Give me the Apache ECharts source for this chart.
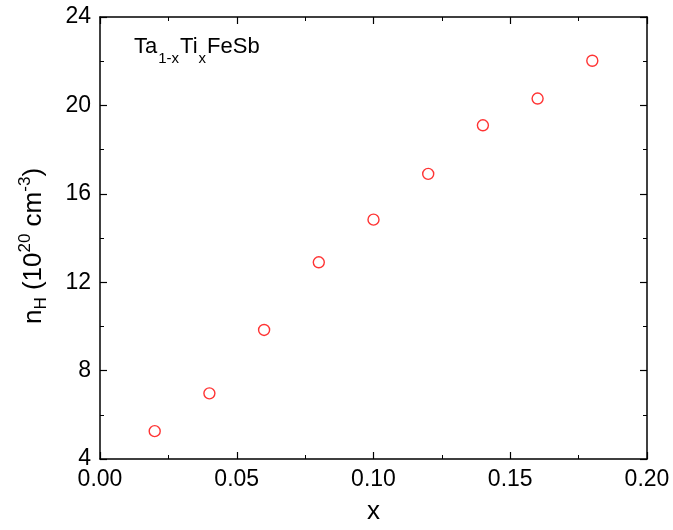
<!DOCTYPE html>
<html lang="en">
<head>
    <meta charset="UTF-8">
    <title>nH vs x</title>
    <script src="https://cdn.jsdelivr.net/npm/echarts@6/dist/echarts.min.js"></script>
</head>
<body style="margin:0">
    <div id="main" style="width: 673px;height:530px;"></div>
    <script>
        // 数据
        var xs = [0.02, 0.04, 0.06, 0.08, 0.10, 0.12, 0.14, 0.16, 0.18];
        var nH = [5.26, 6.97, 9.84, 12.90, 14.83, 16.90, 19.10, 20.31, 22.02];

        var points = [];
        for (var i = 0; i < xs.length; i++) {
            points.push([xs[i], nH[i]]);
        }

        var font = 'Liberation Sans, Arial, sans-serif';
        var myChart = echarts.init(document.getElementById('main'));

        var baseAxis = {
            axisLine: { show: true, onZero: false, lineStyle: { color: '#000', width: 1.5 } },
            axisTick: { show: true, inside: true, length: 7, lineStyle: { color: '#000', width: 1.2 } },
            minorTick: { show: true, splitNumber: 2, length: 4, lineStyle: { color: '#000', width: 1 } },
            splitLine: { show: false }
        };

        var option = {
            animation: false,
            grid: { left: 100, right: 26, top: 17, bottom: 68 },
            graphic: [{
                type: 'text',
                left: 134,
                top: 36,
                style: {
                    text: 'Ta{s|1-x}Ti{s|x}FeSb',
                    font: '22px ' + font,
                    fill: '#000',
                    rich: {
                        s: { fontSize: 15, fontFamily: font, padding: [24, 1, 0, 1] }
                    }
                }
            }],
            xAxis: [
                Object.assign({}, baseAxis, {
                    type: 'value', min: 0, max: 0.2, interval: 0.05,
                    name: 'x', nameLocation: 'middle', nameGap: 40,
                    nameTextStyle: { fontSize: 26, fontFamily: font, color: '#000' },
                    axisLabel: {
                        fontSize: 23, fontFamily: font, color: '#000', margin: 9,
                        formatter: function (v) { return v.toFixed(2); }
                    }
                }),
                Object.assign({}, baseAxis, {
                    type: 'value', min: 0, max: 0.2, interval: 0.05, position: 'top',
                    axisLabel: { show: false }
                })
            ],
            yAxis: [
                Object.assign({}, baseAxis, {
                    type: 'value', min: 4, max: 24, interval: 4,
                    name: 'n{s|H} (10{u|20} cm{u|-3})', nameLocation: 'middle', nameGap: 50, nameRotate: 90,
                    nameTextStyle: {
                        fontSize: 26, fontFamily: font, color: '#000',
                        padding: [0, 16, 0, 0],
                        rich: {
                            s: { fontSize: 17, fontFamily: font, padding: [16, 0, 0, 0] },
                            u: { fontSize: 17, fontFamily: font, padding: [0, 0, 16, 0] }
                        }
                    },
                    axisLabel: { fontSize: 23, fontFamily: font, color: '#000', margin: 9 }
                }),
                Object.assign({}, baseAxis, {
                    type: 'value', min: 4, max: 24, interval: 4, position: 'right',
                    axisLabel: { show: false }
                })
            ],
            series: [{
                type: 'scatter',
                xAxisIndex: 0,
                yAxisIndex: 0,
                symbol: 'circle',
                symbolSize: 11,
                itemStyle: { color: '#fff', borderColor: '#ff0000', borderWidth: 1.4 },
                data: points
            }]
        };

        myChart.setOption(option);
    </script>
</body>
</html>
